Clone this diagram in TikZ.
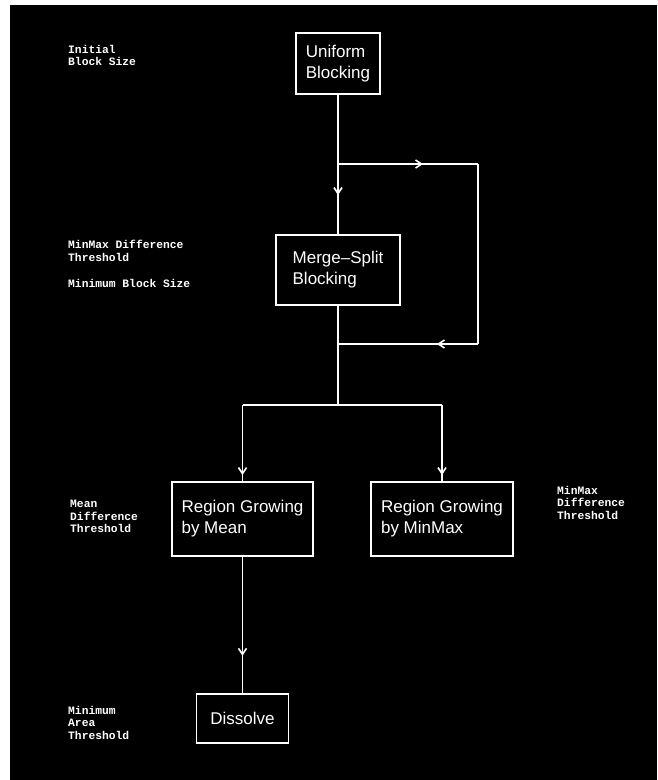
\documentclass[tikz,border=0pt]{standalone}
\usepackage{fontspec}
\setmainfont{Liberation Sans}
\newfontfamily\lblfont{Liberation Mono}
\usetikzlibrary{arrows.meta,decorations.markings}

\tikzset{
  blockbox/.style={draw=white, line width=1.6pt, text=white, align=left,
    font=\fontsize{17}{21}\selectfont, inner sep=0pt},
  paramlbl/.style={text=white, align=left, anchor=north west, inner sep=0pt,
    font=\lblfont\bfseries\fontsize{11.3}{12.6}\selectfont},
  link/.style={draw=white, line width=1.6pt},
  midarr/.style={postaction={decorate, decoration={markings,
    mark=at position #1 with {\arrow{Straight Barb[length=6pt,width=8pt,line width=1.6pt]}}}}}
}

\begin{document}
\begin{tikzpicture}[x=1pt, y=-1pt]

% --- Fondo ---
\useasboundingbox (0,0) rectangle (657,780);
\fill[black] (10,5) rectangle (657,780);

% --- Bloques ---
\node[blockbox, minimum width=84pt, minimum height=61pt]  (uniform)  at (338,63.5) {Uniform\\Blocking};
\node[blockbox, minimum width=124pt, minimum height=70pt] (merge)    at (338,270)  {Merge--Split\\Blocking};
\node[blockbox, minimum width=141pt, minimum height=74pt] (regmean)  at (242.5,519) {Region Growing\\by Mean};
\node[blockbox, minimum width=142pt, minimum height=74pt] (regminmax) at (442,519) {Region Growing\\by MinMax};
\node[blockbox, minimum width=92pt, minimum height=49pt]  (dissolve) at (242.5,718.5) {Dissolve};

% --- Puntos de union ---
\coordinate (jtop) at (338,164);   % entrada del bucle
\coordinate (jtr)  at (478,164);
\coordinate (jbr)  at (478,344);
\coordinate (jbot) at (338,344);   % salida del bucle
\coordinate (jsplit) at (338,405);
\coordinate (jl) at (regmean.north |- jsplit);
\coordinate (jr) at (regminmax.north |- jsplit);

% --- Conexiones ---
\draw[link] (uniform.south) -- (jtop);
\draw[link, midarr=31pt] (jtop) -- (merge.north);
\draw[link, midarr=85pt] (jtop) -- (jtr);
\draw[link] (jtr) -- (jbr);
\draw[link, midarr=41pt] (jbr) -- (jbot);
\draw[link] (merge.south) -- (jbot) -- (jsplit);
\draw[link] (jl) -- (jr);
\draw[link, midarr=70pt] (jl) -- (regmean.north);
\draw[link, midarr=70pt] (jr) -- (regminmax.north);
\draw[link, midarr=99pt] (regmean.south) -- (dissolve.north);

% --- Parametros ---
\node[paramlbl] (initlbl)  at (68,45)  {Initial\\Block Size};
\node[paramlbl] (difflbl)  at (68,240) {MinMax Difference\\Threshold};
\node[paramlbl] (minblk)   at (68,279) {Minimum Block Size};
\node[paramlbl] (meanlbl)  at (70,500) {Mean\\Difference\\Threshold};
\node[paramlbl] (mmlbl)    at (557,486) {MinMax\\Difference\\Threshold};
\node[paramlbl] (arealbl)  at (68,706) {Minimum\\Area\\Threshold};

\end{tikzpicture}
\end{document}
